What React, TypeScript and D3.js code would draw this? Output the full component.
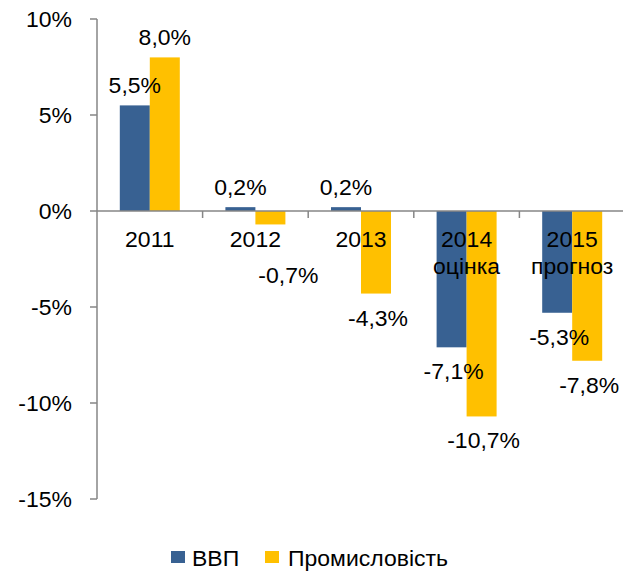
import React from "react";
import * as d3 from "d3";

const categories: string[][] = [["2011"], ["2012"], ["2013"], ["2014", "оцінка"], ["2015", "прогноз"]];
const gdp: number[] = [5.5, 0.2, 0.2, -7.1, -5.3];
const industry: number[] = [8.0, -0.7, -4.3, -10.7, -7.8];
const seriesNames: string[] = ["ВВП", "Промисловість"];
const seriesColors: string[] = ["#386192", "#FFC000"];
const yTicks: number[] = [10, 5, 0, -5, -10, -15];

const W = 623;
const H = 571;
const FONT = "'Liberation Sans', Arial, sans-serif";
const FS = 22;
const SX = 1.045;

function T({ x, y, anchor = "start", children }: { x: number; y: number; anchor?: string; children: React.ReactNode }) {
  return (
    <text
      transform={`translate(${x},${y}) scale(${SX},1)`}
      textAnchor={anchor}
      fontSize={FS}
      fontFamily={FONT}
      fill="#000"
    >
      {children}
    </text>
  );
}

export default function App() {
  const y = d3.scaleLinear().domain([-15, 10]).range([499, 19]);
  const keys = categories.map((c) => c.join(" "));
  const x = d3.scaleBand<string>().domain(keys).range([97, 625]).paddingInner(0).paddingOuter(0);
  const barW = 30;
  const axisX = 97;
  const zeroY = y(0);

  const series = [gdp, industry];

  const fmt = (v: number) => v.toFixed(1).replace(".", ",") + "%";

  const bars: React.ReactNode[] = [];
  const labels: React.ReactNode[] = [];
  keys.forEach((k, i) => {
    const cx = (x(k) as number) + x.bandwidth() / 2;
    series.forEach((s, si) => {
      const v = s[i];
      const bx = cx - barW + si * barW;
      const top = Math.min(y(v), zeroY);
      const h = Math.abs(y(v) - zeroY);
      bars.push(<rect key={`b${i}-${si}`} x={bx} y={top} width={barW} height={h} fill={seriesColors[si]} />);
      let lx = bx + barW / 2;
      let ly: number;
      if (v >= 0) {
        ly = y(v) - 12;
      } else {
        ly = y(v) + 32;
        if (ly < zeroY + 70 && categories[i].length === 1) {
          // collides with category label: move below it
          ly = zeroY + 72;
          lx += 18;
        } else {
          lx += 2;
        }
      }
      labels.push(
        <T key={`l${i}-${si}`} x={lx} y={ly} anchor="middle">
          {fmt(v)}
        </T>
      );
    });
  });

  return (
    <svg width={W} height={H} style={{ position: "absolute", left: 0, top: 0, background: "#fff" }}>
      {bars}
      {/* y axis */}
      <line x1={axisX} x2={axisX} y1={y(10)} y2={y(-15)} stroke="#868686" strokeWidth={1.5} />
      {yTicks.map((t) => (
        <g key={t}>
          <line x1={axisX - 7} x2={axisX} y1={y(t)} y2={y(t)} stroke="#868686" strokeWidth={1.5} />
          <T x={72} y={y(t) + 8} anchor="end">
            {t}%
          </T>
        </g>
      ))}
      {/* x axis */}
      <line x1={axisX} x2={623} y1={zeroY} y2={zeroY} stroke="#868686" strokeWidth={1.5} />
      {keys.slice(1).map((k) => (
        <line key={k} x1={x(k) as number} x2={x(k) as number} y1={zeroY} y2={zeroY + 7} stroke="#868686" strokeWidth={1.5} />
      ))}
      {keys.map((k, i) =>
        categories[i].map((line, li) => (
          <T key={`${k}-${li}`} x={(x(k) as number) + x.bandwidth() / 2} y={zeroY + 36 + li * 27} anchor="middle">
            {line}
          </T>
        ))
      )}
      {labels}
      {/* legend */}
      <g>
        <rect x={171} y={551} width={14} height={12} fill={seriesColors[0]} />
        <T x={192} y={566}>{seriesNames[0]}</T>
        <rect x={265} y={551} width={14} height={12} fill={seriesColors[1]} />
        <T x={288} y={566}>{seriesNames[1]}</T>
      </g>
    </svg>
  );
}
